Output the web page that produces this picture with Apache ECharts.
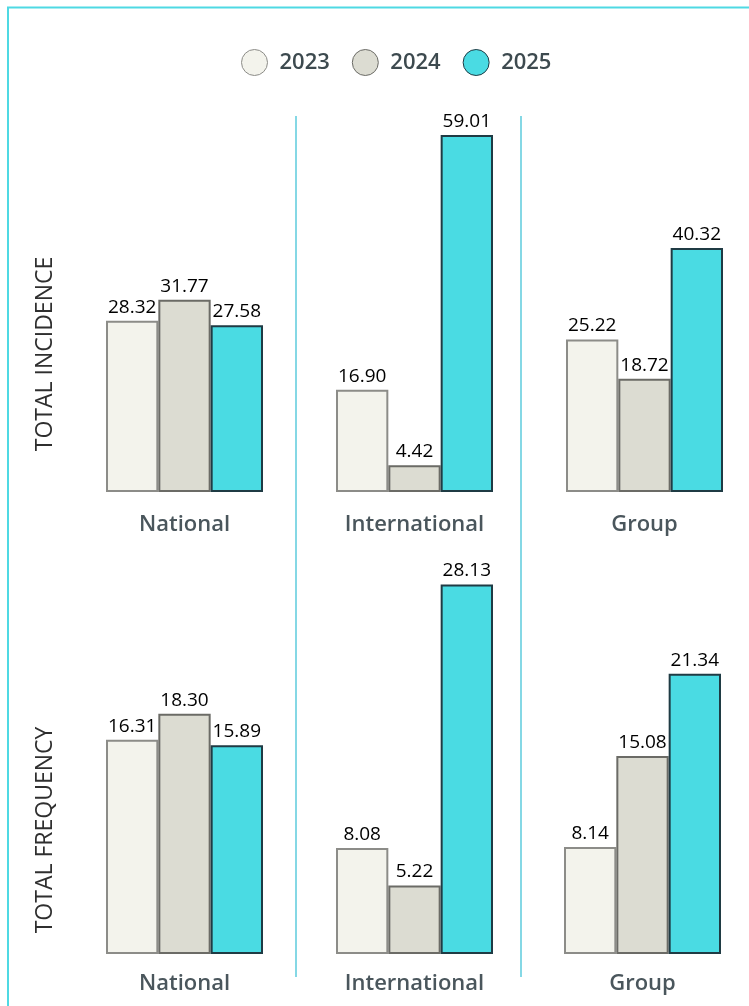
<!DOCTYPE html>
<html>
<head>
<meta charset="utf-8">
<title>Total incidence and frequency</title>
<script src="https://cdn.jsdelivr.net/npm/echarts@6/dist/echarts.min.js"></script>
<style>
  html, body { margin: 0; padding: 0; background: #fff; }
  #chart { width: 749px; height: 1006px; }
</style>
</head>
<body>
<div id="chart"></div>
<script>
// data
const categories = ["National", "International", "Group"];
const years = ["2023", "2024", "2025"];
const rowTitles = ["TOTAL INCIDENCE", "TOTAL FREQUENCY"];

const incidence2023 = [28.32, 16.90, 25.22];
const incidence2024 = [31.77, 4.42, 18.72];
const incidence2025 = [27.58, 59.01, 40.32];

const frequency2023 = [16.31, 8.08, 8.14];
const frequency2024 = [18.30, 5.22, 15.08];
const frequency2025 = [15.89, 28.13, 21.34];

const rows = [
  [incidence2023, incidence2024, incidence2025],
  [frequency2023, frequency2024, frequency2025]
];

// looks
const fills = ["#f3f3ec", "#dcdcd2", "#4adbe3"];
const borders = ["#8c8c88", "#6b6b66", "#1f3b44"];
const rowMax = [60, 30];
const rowTop = [129, 560];
const rowHeight = [363, 394];
const rowLabelMargin = [22, 19];
const colLeft = [[106, 336, 566], [106, 336, 564]];
const colWidth = 157;

const chart = echarts.init(document.getElementById("chart"));

const grids = [];
const xAxes = [];
const yAxes = [];
const series = [];

rows.forEach((rowData, r) => {
  categories.forEach((cat, c) => {
    const idx = grids.length;
    grids.push({
      left: colLeft[r][c],
      width: colWidth,
      top: rowTop[r],
      height: rowHeight[r]
    });
    xAxes.push({
      gridIndex: idx,
      type: "category",
      data: [cat],
      axisLine: { show: false },
      axisTick: { show: false },
      axisLabel: {
        margin: rowLabelMargin[r],
        fontFamily: "Open Sans",
        fontSize: 22,
        fontWeight: 600,
        color: "#4a565c"
      }
    });
    yAxes.push({
      gridIndex: idx,
      type: "value",
      min: 0,
      max: rowMax[r],
      show: false
    });
    years.forEach((y, k) => {
      series.push({
        name: y,
        type: "bar",
        xAxisIndex: idx,
        yAxisIndex: idx,
        barGap: "0%",
        barCategoryGap: "0%",
        data: [rowData[k][c]],
        itemStyle: {
          color: fills[k],
          borderColor: borders[k],
          borderWidth: 2
        },
        label: {
          show: true,
          position: "top",
          distance: 4,
          fontFamily: "Open Sans",
          fontSize: 19,
          color: "#000",
          formatter: p => p.value.toFixed(2)
        }
      });
    });
  });
});

const option = {
  animation: false,
  backgroundColor: "#fff",
  legend: {
    data: years,
    left: 236,
    top: 44,
    icon: "circle",
    itemWidth: 26,
    itemHeight: 26,
    itemGap: 22,
    itemStyle: { borderWidth: 1 },
    textStyle: {
      fontFamily: "Open Sans",
      fontSize: 22,
      fontWeight: 600,
      color: "#3d4a4f",
      padding: [0, 0, 0, 7]
    }
  },
  grid: grids,
  xAxis: xAxes,
  yAxis: yAxes,
  series: series,
  graphic: [
    // outer frame (top and left only)
    { type: "line", shape: { x1: 7, y1: 7.5, x2: 749, y2: 7.5 }, style: { stroke: "#4fd9e3", lineWidth: 2 } },
    { type: "line", shape: { x1: 8, y1: 7, x2: 8, y2: 1006 }, style: { stroke: "#4fd9e3", lineWidth: 2 } },
    // dividers between columns
    { type: "line", shape: { x1: 296, y1: 116, x2: 296, y2: 977 }, style: { stroke: "#5ccbdc", lineWidth: 1.5 } },
    { type: "line", shape: { x1: 521, y1: 116, x2: 521, y2: 977 }, style: { stroke: "#5ccbdc", lineWidth: 1.5 } },
    // row titles
    {
      type: "text", x: 45, y: 354, rotation: Math.PI / 2,
      style: { text: rowTitles[0], fontFamily: "Open Sans", fontSize: 23, fill: "#2f2f2f", align: "center", verticalAlign: "middle" }
    },
    {
      type: "text", x: 45, y: 830, rotation: Math.PI / 2,
      style: { text: rowTitles[1], fontFamily: "Open Sans", fontSize: 23, fill: "#2f2f2f", align: "center", verticalAlign: "middle" }
    }
  ]
};

chart.setOption(option);
</script>
</body>
</html>
